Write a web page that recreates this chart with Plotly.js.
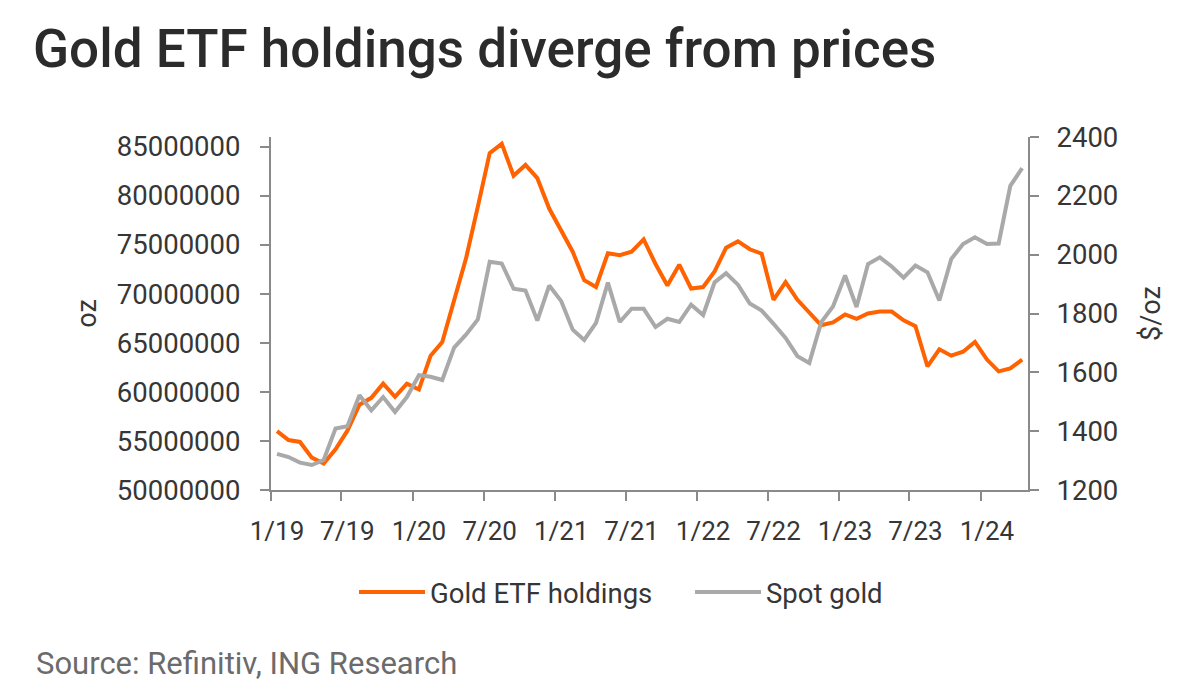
<!DOCTYPE html>
<html>
<head>
<meta charset="utf-8">
<script src="https://cdn.plot.ly/plotly-3.0.1.min.js"></script>
<style>
  html, body { margin: 0; padding: 0; background: #ffffff; }
  #chart { width: 1200px; height: 690px; }
</style>
</head>
<body>
<div id="chart"></div>
<script>
// Monthly categories: Jan 2019 .. Apr 2024
const startYear = 2019, startMonth = 1, monthCount = 64;
const months = [];
for (let k = 0; k < monthCount; k++) {
  const m0 = startMonth - 1 + k;
  const y = startYear + Math.floor(m0 / 12);
  const m = (m0 % 12) + 1;
  months.push(y + '-' + String(m).padStart(2, '0'));
}

// Gold ETF holdings (oz), left axis
const etfHoldings = [
  56000000, 55100000, 54900000, 53300000, 52700000, 54150000, 56050000, 58700000,
  59400000, 60850000, 59500000, 60850000, 60250000, 63700000, 65100000, 69300000,
  73600000, 78900000, 84350000, 85300000, 82050000, 83150000, 81800000, 78700000,
  76500000, 74300000, 71400000, 70700000, 74150000, 73950000, 74300000, 75550000,
  73050000, 70850000, 72980000, 70550000, 70700000, 72300000, 74700000, 75350000,
  74550000, 74100000, 69400000, 71200000, 69400000, 68100000, 66800000, 67100000,
  67900000, 67450000, 68000000, 68200000, 68200000, 67300000, 66700000, 62600000,
  64350000, 63700000, 64100000, 65100000, 63300000, 62100000, 62400000, 63300000
];

// Spot gold ($/oz), right axis
const spotGold = [
  1323, 1312, 1293, 1285, 1302, 1409, 1417, 1522,
  1471, 1516, 1465, 1516, 1590, 1585, 1574, 1684,
  1728, 1780, 1976, 1970, 1884, 1878, 1776, 1895,
  1842, 1745, 1710, 1768, 1905, 1771, 1816, 1816,
  1754, 1782, 1771, 1830, 1795, 1906, 1937, 1898,
  1834, 1810, 1765, 1717, 1655, 1632, 1770, 1824,
  1929, 1822, 1968, 1991, 1960, 1922, 1963, 1940,
  1844, 1985, 2036, 2059, 2036, 2038, 2234, 2294
];

const seriesNames = ['Gold ETF holdings', 'Spot gold'];
const leftTicks = [50000000, 55000000, 60000000, 65000000, 70000000, 75000000, 80000000, 85000000];
const rightTicks = [1200, 1400, 1600, 1800, 2000, 2200, 2400];

const ORANGE = '#FF6200';
const GREY = '#A9A9A9';
const AXIS = '#8a8a8a';
const TEXT = '#363636';
const FONT = 'Roboto, "Open Sans", sans-serif';

const traces = [
  {
    x: months, y: etfHoldings, name: seriesNames[0], type: 'scatter', mode: 'lines',
    xperiod: 'M1', xperiodalignment: 'middle',
    line: { color: ORANGE, width: 4 }, yaxis: 'y'
  },
  {
    x: months, y: spotGold, name: seriesNames[1], type: 'scatter', mode: 'lines',
    xperiod: 'M1', xperiodalignment: 'middle',
    line: { color: GREY, width: 4 }, yaxis: 'y2'
  }
];

const layout = {
  width: 1200, height: 690,
  paper_bgcolor: '#ffffff', plot_bgcolor: '#ffffff',
  margin: { l: 271, r: 172, t: 137, b: 200 },
  font: { family: FONT, color: TEXT, size: 26 },
  title: {
    text: 'Gold ETF holdings diverge from prices',
    font: { family: FONT, size: 53, color: '#2b2b2b', weight: 500 },
    xref: 'container', yref: 'container',
    x: 33 / 1200, xanchor: 'left',
    y: 1 - 48 / 690, yanchor: 'middle'
  },
  xaxis: {
    type: 'date',
    range: ['2019-01-01', '2024-05-01'],
    tick0: '2019-01-01', dtick: 'M6',
    tickformat: '%-m/%y',
    ticklabelshift: 6,
    showgrid: false, zeroline: false,
    showline: true, linecolor: AXIS, linewidth: 2,
    ticks: 'outside', ticklen: 9, tickwidth: 2, tickcolor: AXIS,
    tickfont: { family: FONT, size: 26, color: TEXT },
    ticklabelstandoff: 8,
    fixedrange: true
  },
  yaxis: {
    range: [50000000, 86000000],
    tickvals: leftTicks,
    tickformat: 'd',
    showgrid: false, zeroline: false,
    showline: true, linecolor: AXIS, linewidth: 2,
    ticks: 'outside', ticklen: 9, tickwidth: 2, tickcolor: AXIS,
    tickfont: { family: FONT, size: 27.5, color: TEXT },
    ticklabelstandoff: 14,
    title: { text: 'oz', font: { family: FONT, size: 27, color: TEXT }, standoff: 12 },
    fixedrange: true
  },
  yaxis2: {
    overlaying: 'y', side: 'right',
    range: [1200, 2400],
    tickvals: rightTicks,
    tickformat: 'd',
    showgrid: false, zeroline: false,
    showline: true, linecolor: AXIS, linewidth: 2,
    ticks: 'outside', ticklen: 9, tickwidth: 2, tickcolor: AXIS,
    tickfont: { family: FONT, size: 27.5, color: TEXT },
    ticklabelstandoff: 12,
    title: { text: '$/oz', font: { family: FONT, size: 27, color: TEXT }, standoff: 24 },
    fixedrange: true
  },
  showlegend: true,
  legend: {
    orientation: 'h',
    x: (690 - 271) / 757, xanchor: 'center',
    y: (490 - 592) / 353, yanchor: 'middle',
    font: { family: FONT, size: 27.5, color: TEXT },
    itemwidth: 66,
    entrywidth: 255, entrywidthmode: 'pixels',
    bgcolor: 'rgba(0,0,0,0)'
  },
  annotations: [
    {
      text: 'Source: Refinitiv, ING Research',
      xref: 'paper', yref: 'paper',
      x: (34 - 271) / 757, xanchor: 'left',
      y: (490 - 663) / 353, yanchor: 'middle',
      showarrow: false,
      font: { family: FONT, size: 31, color: '#6b6b6b' }
    }
  ]
};

Plotly.newPlot('chart', traces, layout, { staticPlot: true, displayModeBar: false });
</script>
</body>
</html>
